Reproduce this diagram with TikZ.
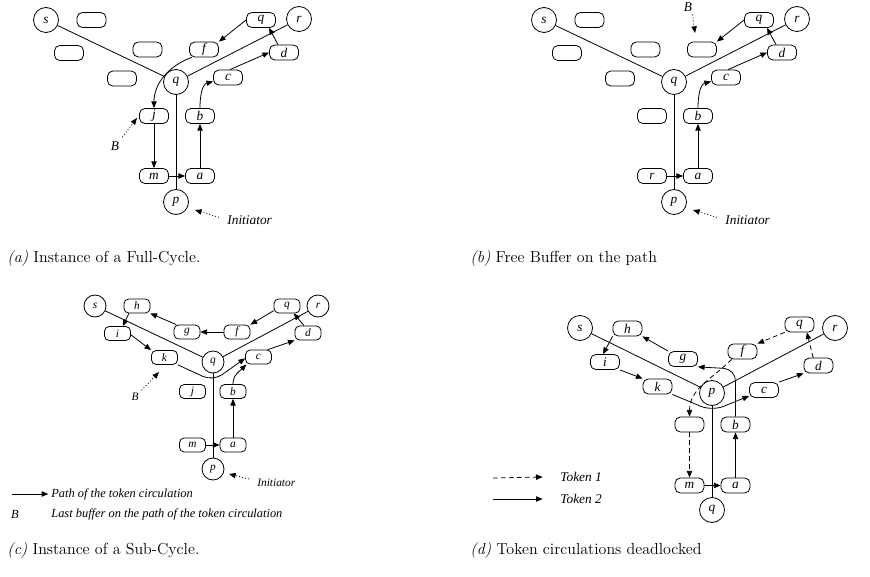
\documentclass[tikz,border=0pt]{standalone}
\usepackage{fontspec}
\newfontfamily\tms{Liberation Serif}
\usetikzlibrary{arrows.meta,calc}
\newcommand\lblA{\tms\itshape\fontsize{10}{12}\selectfont}
\newcommand\lblC{\tms\itshape\fontsize{8.5}{10}\selectfont}
\newcommand\lblL{\tms\itshape\fontsize{9.3}{11}\selectfont}
\newcommand\capf{\fontsize{12}{14}\selectfont}
\tikzset{
 bx/.style={draw, rounded corners=4pt, minimum width=21.75pt, minimum height=11.25pt, inner sep=0pt, font=\lblA},
 cc/.style={draw, circle, minimum size=18.75pt, inner sep=0pt, font=\lblA},
 bxs/.style={bx, minimum width=19.5pt, minimum height=10.5pt, rounded corners=3.5pt, font=\lblC},
 ccs/.style={cc, minimum size=16.5pt, font=\lblC},
 arr/.style={-{Triangle[length=5pt,width=4pt]}},
 dots/.style={dash pattern=on 0.7pt off 1.6pt},
 dsh/.style={dash pattern=on 3.5pt off 2.5pt},
 captxt/.style={anchor=west, font=\capf, inner sep=0pt},
 txtA/.style={font=\lblA, inner sep=0pt},
 txtC/.style={font=\lblC, inner sep=0pt},
 txtL/.style={font=\lblL, inner sep=0pt},
}
\begin{document}
\begin{tikzpicture}[x=0.75pt,y=0.75pt,line width=0.6pt]
\useasboundingbox (0,0) rectangle (870,-577);
% ---------------- (a)
\node[cc] (As) at (46,-20) {s};
\node[cc] (Ar) at (299,-19) {r};
\node[cc] (Aq) at (176,-82) {q};
\node[cc] (Ap) at (176,-202) {p};
\node[bx] (Ae1) at (91.5,-20) {};
\node[bx] (Aqb) at (261,-20) {q};
\node[bx] (Ae2) at (69,-53) {};
\node[bx] (Ae3) at (147.5,-49.5) {};
\node[bx] (Af) at (204,-49.5) {f};
\node[bx] (Ad) at (284,-52.5) {d};
\node[bx] (Ae4) at (122,-78.5) {};
\node[bx] (Ac) at (228,-77.5) {c};
\node[bx] (Aj) at (154,-116) {j};
\node[bx] (Ab) at (200,-116) {b};
\node[bx] (Am) at (154,-176) {m};
\node[bx] (Aa) at (200,-176) {a};
\draw (As) -- (Aq);
\draw (Aq) -- (Ar);
\draw (Aq) -- (Ap);
\draw[arr] (Am) -- (Aa);
\draw[arr] (Aa) -- (Ab);
\draw[arr] (Ab.north) to[out=90,in=195] ([yshift=-3pt]Ac.west);
\draw[arr] ([xshift=1.5pt]Ac.north) -- (Ad.west);
\draw[arr] ([xshift=-4.5pt]Ad.north) -- ([xshift=6pt]Aqb.south);
\draw[arr] (Aqb.west) -- (Af.north east);
\draw[arr] ([xshift=2pt]Af.south west) to[out=200,in=90] (Aj.north);
\draw[arr] (Aj) -- (Am);
\node[txtA] (AB) at (115,-146) {B};
\coordinate (ABt) at (137,-118);
\draw[arr,dots] ([shift={(2pt,3pt)}]AB.north east) -- (ABt);
\node[txtA,anchor=west] (Ainit) at (227,-220) {Initiator};
\coordinate (Apt) at (195,-210);
\draw[arr,dots] ([shift={(-6pt,2pt)}]Ainit.west) -- (Apt);
% ---------------- (b)
\begin{scope}[xshift=373.5pt]
\node[cc] (Bs) at (46,-20) {s};
\node[cc] (Br) at (299,-19) {r};
\node[cc] (Bq) at (176,-82) {q};
\node[cc] (Bp) at (176,-202) {p};
\node[bx] (Be1) at (91.5,-20) {};
\node[bx] (Bqb) at (261,-20) {q};
\node[bx] (Be2) at (69,-53) {};
\node[bx] (Be3) at (147.5,-49.5) {};
\node[bx] (Bf) at (204,-49.5) {};
\node[bx] (Bd) at (284,-52.5) {d};
\node[bx] (Be4) at (122,-78.5) {};
\node[bx] (Bc) at (228,-77.5) {c};
\node[bx] (Bj) at (154,-116) {};
\node[bx] (Bb) at (200,-116) {b};
\node[bx] (Bm) at (154,-176) {r};
\node[bx] (Ba) at (200,-176) {a};
\draw (Bs) -- (Bq);
\draw (Bq) -- (Br);
\draw (Bq) -- (Bp);
\draw[arr] (Bm) -- (Ba);
\draw[arr] (Ba) -- (Bb);
\draw[arr] (Bb.north) to[out=90,in=195] ([yshift=-3pt]Bc.west);
\draw[arr] ([xshift=1.5pt]Bc.north) -- (Bd.west);
\draw[arr] ([xshift=-4.5pt]Bd.north) -- ([xshift=6pt]Bqb.south);
\draw[arr] (Bqb.west) -- (Bf.north east);
\node[txtA] (BB) at (190,-7) {B};
\coordinate (BBt) at (197,-33);
\draw[arr,dots] ([shift={(0pt,-2pt)}]BB.south east) -- (BBt);
\node[txtA,anchor=west] (Binit) at (227,-220) {Initiator};
\coordinate (Bpt) at (195,-210);
\draw[arr,dots] ([shift={(-6pt,2pt)}]Binit.west) -- (Bpt);
\end{scope}
% ---------------- (c)
\node[ccs] (Cs) at (95,-306) {s};
\node[ccs] (Cr) at (318,-306) {r};
\node[ccs] (Cq) at (213,-362) {q};
\node[ccs] (Cp) at (213,-469) {p};
\node[bxs] (Ch) at (137,-306) {h};
\node[bxs] (Cqb) at (287,-306) {q};
\node[bxs] (Ci) at (117.5,-333.5) {i};
\node[bxs] (Cg) at (187,-332) {g};
\node[bxs] (Cf) at (237,-332) {f};
\node[bxs] (Cd) at (308,-333) {d};
\node[bxs] (Ck) at (164.5,-357.5) {k};
\node[bxs] (Cc) at (258.5,-357) {c};
\node[bxs] (Cj) at (192.5,-391.5) {j};
\node[bxs] (Cb) at (233,-391.5) {b};
\node[bxs] (Cm) at (192.5,-445) {m};
\node[bxs] (Ca) at (233,-445) {a};
\draw (Cs) -- (Cq);
\draw (Cq) -- (Cr);
\draw (Cq) -- (Cp);
\draw[arr] (Cm) -- (Ca);
\draw[arr] (Ca) -- (Cb);
\draw[arr] (Cb.north) to[out=90,in=225] ([xshift=1pt]Cc.south west);
\draw[arr,rounded corners=8pt] (Ck.south east) -- (213,-381) -- ([yshift=-1pt]Cc.west);
\draw[arr] ([xshift=-3pt]Cc.north east) -- (Cd.south west);
\draw[arr] ([xshift=-3pt]Cd.north) -- ([xshift=5pt]Cqb.south);
\draw[arr] ([yshift=2pt]Cqb.south west) -- (Cf.north east);
\draw[arr] (Cf.west) -- (Cg.east);
\draw[arr] ([xshift=2pt]Cg.north west) -- (Ch.south east);
\draw[arr] ([xshift=4pt]Ch.south west) -- ([xshift=4pt]Ci.north);
\draw[arr] ([yshift=-1pt]Ci.east) -- (Ck.north west);
\node[txtC] (CB) at (135,-397) {B};
\coordinate (CBt) at (159,-372);
\draw[arr,dots] ([shift={(2pt,2pt)}]CB.north east) -- (CBt);
\node[txtC,anchor=west] (Cinit) at (257,-483) {Initiator};
\coordinate (Cpt) at (229,-474);
\draw[arr,dots] ([shift={(-6pt,3pt)}]Cinit.west) -- (Cpt);
\coordinate (CL1) at (12,-494);
\node[txtL,anchor=west] (CL1t) at (51,-494) {Path of the token circulation};
\draw[arr] (CL1) -- ([xshift=-2pt]CL1t.west);
\node[txtL] (CL2b) at (15,-514) {B};
\node[txtL,anchor=west] (CL2t) at (51,-514) {Last buffer on the path of the token circulation};
% ---------------- (d)
\node[cc] (Ds) at (580,-328) {s};
\node[cc] (Dr) at (835,-328) {r};
\node[cc] (Dp) at (712,-393) {p};
\node[cc] (Dq) at (712,-510) {q};
\node[bx] (Dh) at (627.5,-328.5) {h};
\node[bx] (Di) at (605,-362) {i};
\node[bx] (Dg) at (683,-359) {g};
\node[bx] (Df) at (742.5,-351.5) {f};
\node[bx] (Dqb) at (799.5,-324.5) {q};
\node[bx] (Dd) at (818.5,-365.5) {d};
\node[bx] (Dk) at (657.5,-386.5) {k};
\node[bx] (Dc) at (764,-390) {c};
\node[bx] (De) at (689.5,-424.5) {};
\node[bx] (Db) at (735.5,-424.5) {b};
\node[bx] (Dm) at (689.5,-485.5) {m};
\node[bx] (Da) at (735.5,-485.5) {a};
\draw (Ds) -- (Dp);
\draw (Dp) -- (Dr);
\draw (Dp) -- (Dq);
\draw[arr] (Dm) -- (Da);
\draw[arr] (Da) -- (Db);
\draw[arr,rounded corners=9pt] (Db.north) -- (735.5,-369) -- (Dg.south east);
\draw[arr] (Dg.north west) -- (Dh.south east);
\draw[arr] (Dh.south west) -- ([xshift=-1.5pt]Di.north);
\draw[arr] (Di.south east) -- (Dk.north west);
\draw[arr,rounded corners=9pt] (Dk.south east) -- (712,-411) -- ([yshift=-4.5pt]Dc.west);
\draw[arr] (Dc.north east) -- (Dd.south west);
\draw[arr,dsh] ([xshift=-4pt]Dd.north) -- ([xshift=5.5pt]Dqb.south);
\draw[arr,dsh] (Dqb.south west) -- (Df.north east);
\draw[arr,dsh] ([xshift=3pt]Df.south west) to[out=225,in=90] (De.north);
\draw[arr,dsh] (De) -- (Dm);
\coordinate (DL1) at (493,-478);
\node[txtA,anchor=west] (DL1t) at (560,-477) {Token 1};
\draw[arr,dsh] (DL1) -- ([xshift=-13pt]DL1t.west);
\coordinate (DL2) at (493,-499);
\node[txtA,anchor=west] (DL2t) at (560,-499) {Token 2};
\draw[arr] (DL2) -- ([xshift=-13pt]DL2t.west);
% ---------------- captions
\node[captxt] (capA) at (7,-259) {\textit{(a)} Instance of a Full-Cycle.};
\node[captxt] (capB) at (470,-259) {\textit{(b)} Free Buffer on the path};
\node[captxt] (capC) at (7,-551) {\textit{(c)} Instance of a Sub-Cycle.};
\node[captxt] (capD) at (470,-551) {\textit{(d)} Token circulations deadlocked};
\end{tikzpicture}
\end{document}
